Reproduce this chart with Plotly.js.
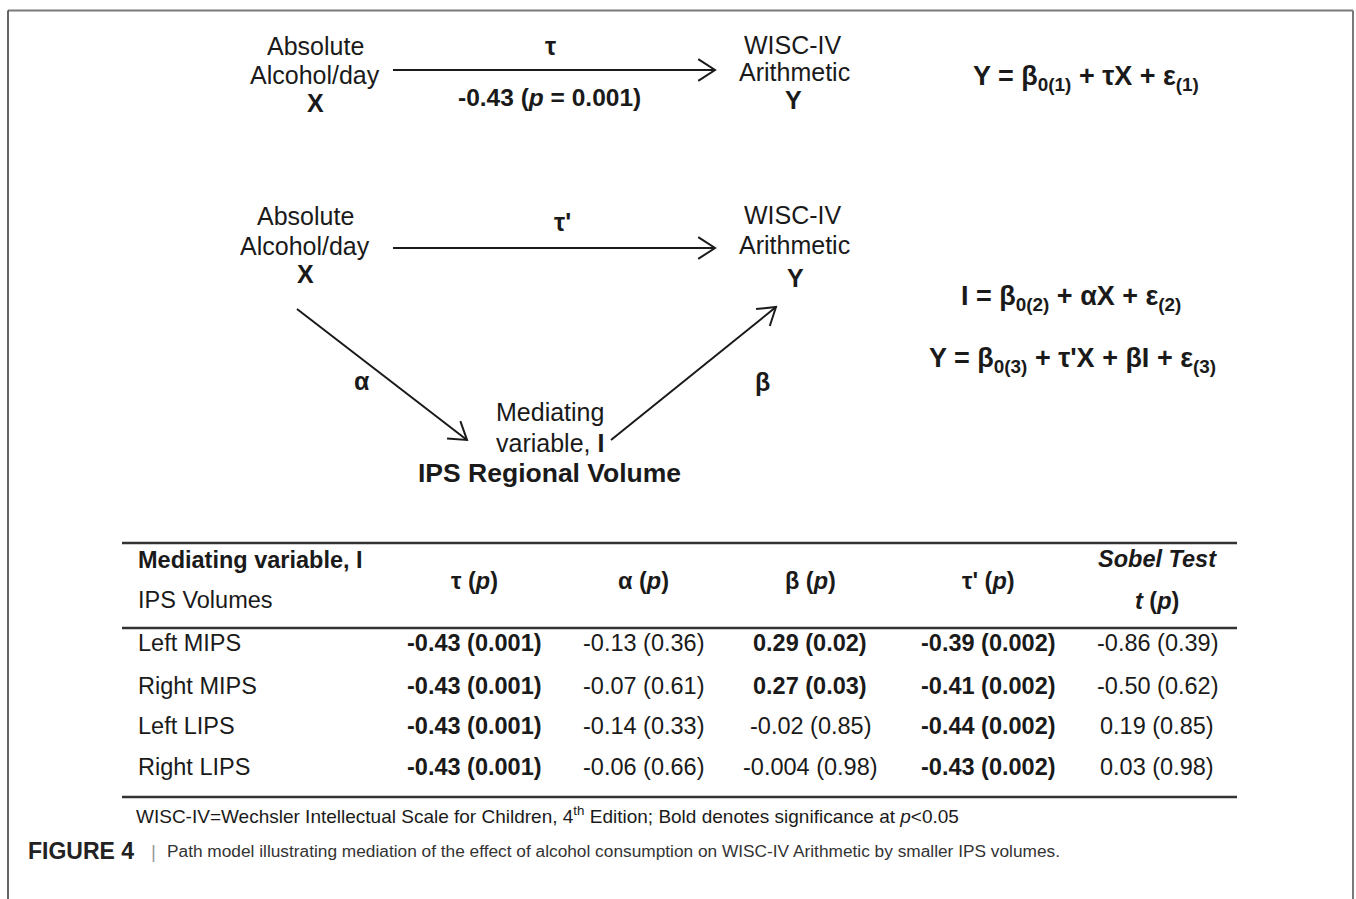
<!DOCTYPE html>
<html><head><meta charset="utf-8">
<script src="https://cdn.plot.ly/plotly-3.0.1.min.js"></script>
<style>html,body{margin:0;padding:0;background:#fff}#chart{width:1356px;height:899px}</style>
</head><body><div id="chart"></div>
<script>
// ---------- DATA ----------
const rowLabels = ['Left MIPS', 'Right MIPS', 'Left LIPS', 'Right LIPS'];
const colHeaders = ['τ (<i>p</i>)', 'α (<i>p</i>)', 'β (<i>p</i>)', "τ' (<i>p</i>)"];
const tauCoef = ['-0.43', '-0.43', '-0.43', '-0.43'];
const tauP = ['0.001', '0.001', '0.001', '0.001'];
const alphaCoef = ['-0.13', '-0.07', '-0.14', '-0.06'];
const alphaP = ['0.36', '0.61', '0.33', '0.66'];
const betaCoef = ['0.29', '0.27', '-0.02', '-0.004'];
const betaP = ['0.02', '0.03', '0.85', '0.98'];
const tauPrimeCoef = ['-0.39', '-0.41', '-0.44', '-0.43'];
const tauPrimeP = ['0.002', '0.002', '0.002', '0.002'];
const sobelT = ['-0.86', '-0.50', '0.19', '0.03'];
const sobelP = ['0.39', '0.62', '0.85', '0.98'];
const totalEffect = '-0.43';
const totalEffectP = '0.001';
const alphaSig = 0.05;

// ---------- LAYOUT HELPERS ----------
const FONT = 'Liberation Sans, Arial, Helvetica, sans-serif';
const INK = '#1a1a1a';
const annotations = [];
const shapes = [];

function txt(x, y, text, size, opts) {
  opts = opts || {};
  annotations.push({
    x: x, y: y, xref: 'x', yref: 'y', text: text, showarrow: false,
    xanchor: opts.xanchor || 'center', yanchor: 'middle',
    font: {family: FONT, size: size, color: opts.color || INK}
  });
}
function line(x0, y0, x1, y1, w, c) {
  shapes.push({type: 'line', xref: 'x', yref: 'y', x0: x0, y0: y0, x1: x1, y1: y1,
    line: {color: c || INK, width: w}});
}
function arrow(x0, y0, x1, y1) {
  line(x0, y0, x1, y1, 2);
  const ang = Math.atan2(y1 - y0, x1 - x0);
  const L = 20, spread = 33 * Math.PI / 180;
  const ax = x1 - L * Math.cos(ang - spread), ay = y1 - L * Math.sin(ang - spread);
  const bx = x1 - L * Math.cos(ang + spread), by = y1 - L * Math.sin(ang + spread);
  shapes.push({type: 'path', xref: 'x', yref: 'y',
    path: `M${ax},${ay} L${x1},${y1} L${bx},${by}`,
    line: {color: INK, width: 2}});
}

// ---------- FRAME ----------
line(8, 10.5, 1353, 10.5, 2, '#7a7a7a');
line(8, 10.5, 8, 905, 1.5, '#333');
line(1353, 10.5, 1353, 905, 2, '#7a7a7a');

// ---------- TOP MODEL ----------
const S = 25, SB = 25, EQ = 27;
txt(315, 46, 'Absolute', S);
txt(315, 75, 'Alcohol/day', S);
txt(315, 103, '<b>X</b>', SB);
arrow(393, 70, 715, 70);
txt(550, 46, '<b>τ</b>', SB);
txt(549, 97, `<b>${totalEffect} (<i>p</i> = ${totalEffectP})</b>`, 24.5);
txt(793, 45, 'WISC-IV', S);
txt(794, 72, 'Arithmetic', S);
txt(793, 100, '<b>Y</b>', SB);
txt(1086, 78, '<b>Y = β<sub>0(1)</sub> + τX + ε<sub>(1)</sub></b>', EQ);

// ---------- MEDIATION MODEL ----------
txt(305, 216, 'Absolute', S);
txt(305, 246, 'Alcohol/day', S);
txt(305, 274, '<b>X</b>', SB);
arrow(393, 248, 715, 248);
txt(562, 222, "<b>τ'</b>", SB);
txt(793, 215, 'WISC-IV', S);
txt(794, 245, 'Arithmetic', S);
txt(795, 278, '<b>Y</b>', SB);
arrow(297, 309, 467, 440);
arrow(611, 440, 776, 307);
txt(362, 381, '<b>α</b>', SB);
txt(762, 382, '<b>β</b>', SB);
txt(550, 412, 'Mediating', S);
txt(550, 443, 'variable, <b>I</b>', S);
txt(549, 473, '<b>IPS Regional Volume</b>', 26.5);
txt(1071, 298, '<b>I = β<sub>0(2)</sub> + αX + ε<sub>(2)</sub></b>', EQ);
txt(1072, 360, "<b>Y = β<sub>0(3)</sub> + τ'X + βI + ε<sub>(3)</sub></b>", EQ);

// ---------- TABLE ----------
const T = 23.5;
const colX = [474, 643, 810, 988, 1157];
const rowY = [643, 686, 726, 767];
line(122, 543, 1237, 543, 2.5, '#333');
line(122, 628, 1237, 628, 2.5, '#333');
line(122, 797, 1237, 797, 2.5, '#333');
txt(136, 560, '<b>Mediating variable, I</b>', T, {xanchor: 'left'});
txt(136, 600, 'IPS Volumes', T, {xanchor: 'left'});
colHeaders.forEach((h, i) => txt(colX[i], 581, `<b>${h}</b>`, T));
txt(colX[4], 559, '<b><i>Sobel Test</i></b>', T);
txt(colX[4], 601, '<b><i>t</i> (<i>p</i>)</b>', T);

const cols = [[tauCoef, tauP], [alphaCoef, alphaP], [betaCoef, betaP], [tauPrimeCoef, tauPrimeP], [sobelT, sobelP]];
rowLabels.forEach((lab, r) => {
  txt(136, rowY[r], lab, T, {xanchor: 'left'});
  cols.forEach((c, ci) => {
    const s = `${c[0][r]} (${c[1][r]})`;
    const sig = parseFloat(c[1][r]) < alphaSig;
    txt(colX[ci], rowY[r], sig ? `<b>${s}</b>` : s, T);
  });
});
txt(134, 815, 'WISC-IV=Wechsler Intellectual Scale for Children, 4<sup>th</sup> Edition; Bold denotes significance at <i>p</i>&lt;0.05', 19, {xanchor: 'left'});

// ---------- CAPTION ----------
txt(26, 851, '<b>FIGURE 4</b>', 23, {xanchor: 'left', color: '#222'});
txt(153, 851, '|', 19, {color: '#999'});
txt(165, 851, 'Path model illustrating mediation of the effect of alcohol consumption on WISC-IV Arithmetic by smaller IPS volumes.', 17.3, {xanchor: 'left', color: '#333'});

// ---------- PLOT ----------
Plotly.newPlot('chart', [{x: [0], y: [0], type: 'scatter', mode: 'markers', marker: {opacity: 0}, hoverinfo: 'skip', showlegend: false}], {
  width: 1356, height: 899, autosize: false,
  margin: {l: 0, r: 0, t: 0, b: 0, pad: 0},
  paper_bgcolor: '#fff', plot_bgcolor: '#fff',
  xaxis: {range: [0, 1356], visible: false, fixedrange: true},
  yaxis: {range: [899, 0], visible: false, fixedrange: true},
  showlegend: false,
  annotations: annotations, shapes: shapes
}, {staticPlot: true});
</script></body></html>
